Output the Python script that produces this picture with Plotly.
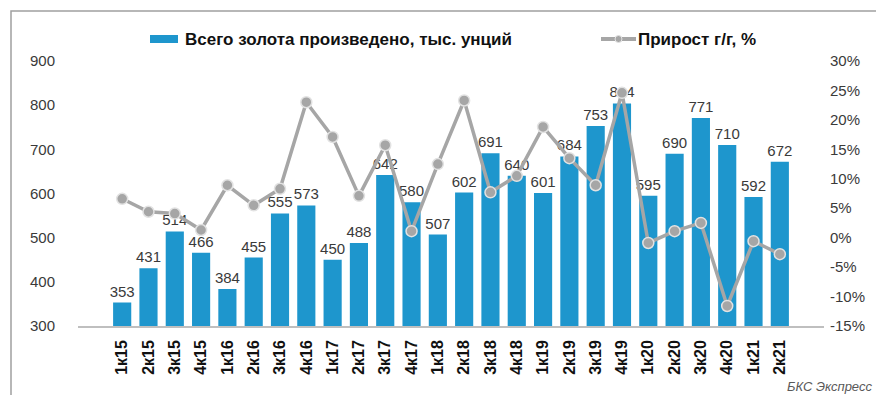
import plotly.graph_objects as go

categories = ["1к15","2к15","3к15","4к15","1к16","2к16","3к16","4к16","1к17","2к17","3к17","4к17",
              "1к18","2к18","3к18","4к18","1к19","2к19","3к19","4к19","1к20","2к20","3к20","4к20",
              "1к21","2к21"]
gold_koz = [353,431,514,466,384,455,555,573,450,488,642,580,507,602,691,640,601,684,753,804,
            595,690,771,710,592,672]
growth_pct = [6.6,4.4,4.1,1.3,8.9,5.5,8.3,23.0,17.1,7.1,15.7,1.1,12.5,23.3,7.7,10.5,18.8,13.5,
              8.9,24.6,-0.9,1.1,2.5,-11.6,-0.6,-2.8]
left_ticks = [300,400,500,600,700,800,900]
right_ticks = [-15,-10,-5,0,5,10,15,20,25,30]
right_labels = [f"{v}%" for v in right_ticks]
bar_name = "Всего золота произведено, тыс. унций"
line_name = "Прирост г/г, %"

FONT = "Arial, Liberation Sans, sans-serif"
TXT = "#3A3A3A"
BAR = "#1E96CD"
LINE = "#A6A6A6"

W, H = 884, 395
ML, MR, MT, MB = 70, 68, 53, 77
PW, PH = W - ML - MR, H - MT - MB


def px(x):
    return (x - ML) / PW


def py(y):
    return (H - MB - y) / PH


fig = go.Figure()
fig.add_trace(go.Bar(
    x=categories, y=gold_koz, name=bar_name,
    marker=dict(color=BAR, line=dict(width=0)),
    text=gold_koz, textposition="outside", texttemplate="%{text}",
    constraintext="none",
    textfont=dict(family=FONT, size=15, color=TXT), cliponaxis=False,
))
fig.add_trace(go.Scatter(
    x=categories, y=growth_pct, name=line_name, yaxis="y2",
    mode="lines+markers",
    line=dict(color=LINE, width=3.5),
    marker=dict(size=11, color=LINE, line=dict(color="#E2E2E2", width=1.5)),
    cliponaxis=False,
))

shapes = [
    dict(type="rect", xref="paper", yref="paper", x0=px(3), x1=px(876), y0=py(390), y1=py(3),
         line=dict(color="#A0A0A0", width=1.5), fillcolor="rgba(0,0,0,0)", layer="below"),
    # legend swatches
    dict(type="rect", xref="paper", yref="paper", x0=px(142), x1=px(170), y0=py(35), y1=py(27),
         line=dict(width=0), fillcolor=BAR),
    dict(type="line", xref="paper", yref="paper", x0=px(593), x1=px(628), y0=py(31), y1=py(31),
         line=dict(color=LINE, width=4)),
    dict(type="circle", xref="paper", yref="paper", x0=px(607), x1=px(614), y0=py(34.5), y1=py(27.5),
         line=dict(color="#E2E2E2", width=1), fillcolor=LINE),
]

annotations = [
    dict(text=bar_name, xref="paper", yref="paper", x=px(175), y=py(31), xanchor="left",
         yanchor="middle", showarrow=False,
         font=dict(family=FONT, size=17, color="#111111", weight="bold")),
    dict(text=line_name, xref="paper", yref="paper", x=px(628), y=py(31), xanchor="left",
         yanchor="middle", showarrow=False,
         font=dict(family=FONT, size=17, color="#111111", weight="bold")),
    dict(text="БКС Экспресс", xref="paper", yref="paper", x=px(866), y=py(378),
         xanchor="right", yanchor="middle", showarrow=False,
         font=dict(family=FONT, size=13, color="#595959", style="italic")),
]

fig.update_layout(
    width=W, height=H,
    margin=dict(l=ML, r=MR, t=MT, b=MB),
    paper_bgcolor="white", plot_bgcolor="white",
    font=dict(family=FONT, color=TXT),
    bargap=0.31,
    showlegend=False,
    xaxis=dict(tickangle=-90, tickfont=dict(family=FONT, size=16, color="#111111", weight="bold"),
               showline=True, linecolor="#BFBFBF", linewidth=1.5, ticks="", showgrid=False,
               ticklabelstandoff=6),
    yaxis=dict(range=[300, 900], tickvals=left_ticks, showgrid=False, zeroline=False,
               tickfont=dict(family=FONT, size=15, color=TXT), ticklabelstandoff=22),
    yaxis2=dict(range=[-15, 30], tickvals=right_ticks, ticktext=right_labels, overlaying="y",
                side="right", showgrid=False, zeroline=False,
                tickfont=dict(family=FONT, size=15, color=TXT), ticklabelstandoff=5),
    shapes=shapes,
    annotations=annotations,
)

fig.write_html("out.html")
